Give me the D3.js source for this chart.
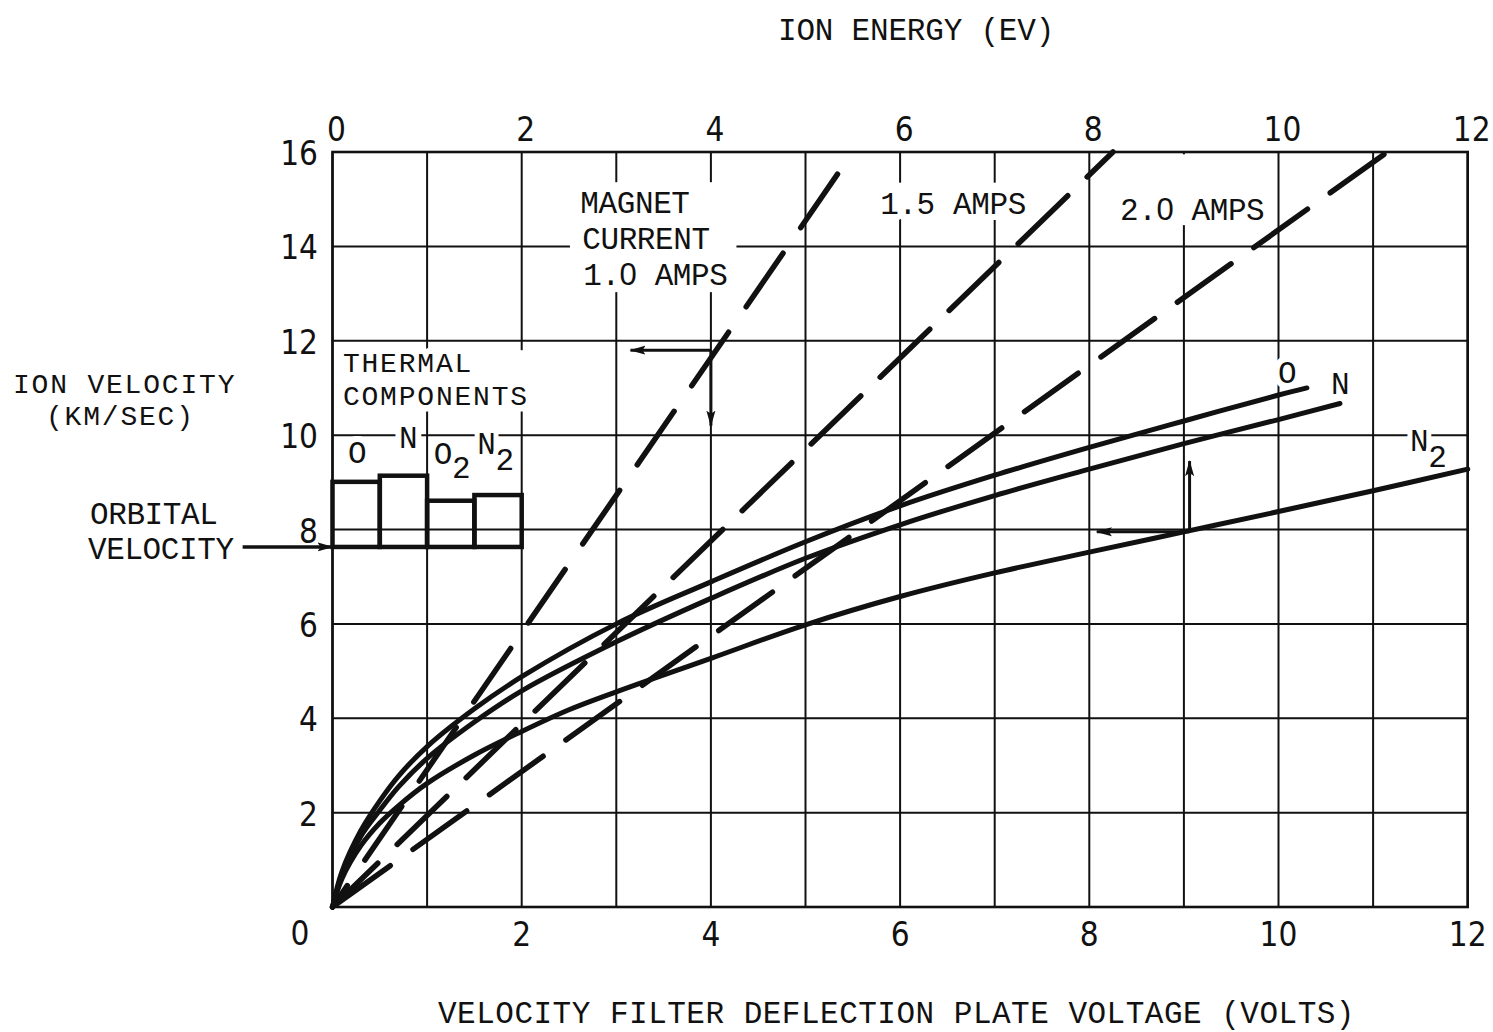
<!DOCTYPE html>
<html>
<head>
<meta charset="utf-8">
<script src="https://cdn.jsdelivr.net/npm/d3@7"></script>
<style>
  html, body { margin: 0; padding: 0; background: #fff; }
  svg text { font-family: "Liberation Mono", "DejaVu Sans Mono", monospace; fill: #111; }
  svg text.tick { font-family: "Liberation Sans Narrow", "DejaVu Sans Condensed", sans-serif; }
</style>
</head>
<body>
<svg id="chart" width="1493" height="1032"></svg>
<script>
// ---- axis ticks ----
const plateTicks  = [2, 4, 6, 8, 10, 12];          // deflection plate voltage (bottom)
const energyTicks = [0, 2, 4, 6, 8, 10, 12];       // ion energy, eV (top)
const velTicks    = [2, 4, 6, 8, 10, 12, 14, 16];  // ion velocity, km/s (left)

// ---- ion velocity curves ----
const oX  = [0, 0.1, 0.3, 0.5, 0.7, 1.0, 1.5, 2.0, 3.0, 4.0, 5.0, 6.0, 7.0, 8.0, 9.0, 10.0, 10.3];
const oV  = [0, 0.75, 1.62, 2.25, 2.78, 3.40, 4.2, 4.88, 6.0, 6.89, 7.74, 8.5, 9.15, 9.74, 10.3, 10.85, 11.0];
const nX  = [0, 0.1, 0.3, 0.5, 0.7, 1.0, 1.5, 2.0, 3.0, 4.0, 5.0, 6.0, 7.0, 8.0, 9.0, 10.0, 10.65];
const nV  = [0, 0.65, 1.5, 2.05, 2.55, 3.15, 3.92, 4.58, 5.62, 6.54, 7.39, 8.1, 8.72, 9.28, 9.82, 10.33, 10.67];
const n2X = [0, 0.1, 0.3, 0.5, 0.7, 1.0, 1.5, 2.0, 2.5, 3.0, 4.0, 5.0, 6.0, 7.0, 8.0, 9.0, 10.0, 11.0, 12.0];
const n2V = [0, 0.6, 1.3, 1.78, 2.15, 2.62, 3.22, 3.72, 4.18, 4.56, 5.27, 5.98, 6.58, 7.08, 7.52, 7.95, 8.38, 8.82, 9.28];

// ---- magnet current lines (straight from the origin) ----
const magnetAmps = ["1.0", "1.5", "2.0"];
const magnetEndX = [5.5, 8.25, 11.15];
const magnetEndV = [16, 16, 16];

// ---- thermal components above orbital velocity ----
const thermalSpecies = ["O", "N", "O2", "N2"];
const thermalTop     = [9.01, 9.14, 8.61, 8.73];
const thermalWidth   = 0.5;
const orbitalVelocity = 7.63;

// ---- read-out arrows: [tip1, corner, tip2] ----
const readoutMagnet = [[3.15, 11.8], [4.0, 11.8], [4.0, 10.2]];
const readoutN2     = [[8.08, 7.95], [9.06, 7.95], [9.06, 9.45]];
const orbitalArrowX = [-0.95, 0];

// ================= drawing =================
const svg = d3.select("#chart");
const x = d3.scaleLinear().domain([0, 12]).range([332.5, 1467.7]);
const y = d3.scaleLinear().domain([0, 16]).range([907, 152]);

svg.append("rect").attr("width", 1493).attr("height", 1032).attr("fill", "#fff");

// arrowhead marker
svg.append("defs").append("marker")
  .attr("id", "head").attr("viewBox", "0 -6 16 12")
  .attr("refX", 15).attr("refY", 0)
  .attr("markerWidth", 16).attr("markerHeight", 12)
  .attr("markerUnits", "userSpaceOnUse").attr("orient", "auto")
  .append("path").attr("d", "M0,-4.5L16,0L0,4.5L3,0Z").attr("fill", "#111");

// grid: every volt, every 2 km/s
const grid = svg.append("g").attr("stroke", "#111").attr("stroke-width", 2);
grid.selectAll("line.v").data(d3.range(0, 13)).join("line")
  .attr("x1", d => x(d)).attr("x2", d => x(d))
  .attr("y1", y(0)).attr("y2", y(16));
grid.selectAll("line.h").data(d3.range(0, 17, 2)).join("line")
  .attr("x1", x(0)).attr("x2", x(12))
  .attr("y1", d => y(d)).attr("y2", d => y(d));

// white panels behind the in-plot annotation blocks
const panels = [
  [x(2.51), y(15.36), x(4.27), y(13.03)],
  [x(5.68), y(15.35), x(7.3), y(14.58)],
  [x(8.25), y(15.95), x(9.95), y(14.45)],
  [x(0.08), y(11.8), x(2.15), y(10.5)]
];
svg.selectAll("rect.panel").data(panels).join("rect")
  .attr("x", d => d[0]).attr("y", d => d[1])
  .attr("width", d => d[2] - d[0]).attr("height", d => d[3] - d[1])
  .attr("fill", "#fff");

// plot frame
svg.append("rect")
  .attr("x", x(0)).attr("y", y(16))
  .attr("width", x(12) - x(0)).attr("height", y(0) - y(16))
  .attr("fill", "none").attr("stroke", "#111").attr("stroke-width", 2.6);

// lettering: mono stencil-style text; digit zeros set plain
const FS = 31;
function fillRun(sel, str) {
  str.split(/(0)/).filter(s => s.length).forEach(s => {
    const ts = sel.append("tspan").text(s);
    if (s === "0") ts.style("font-family", "'Liberation Sans', 'DejaVu Sans', sans-serif");
  });
}
// lines: [[text, x, y], ...] in one text element
function block(lines, opts) {
  opts = opts || {};
  const t = svg.append("text")
    .attr("font-size", opts.size || FS)
    .attr("letter-spacing", (opts.spacing != null ? opts.spacing : -0.4) + "px")
    .attr("text-anchor", opts.anchor || "start");
  if (opts.halo) {
    t.attr("stroke", "#fff").attr("stroke-width", 12)
     .attr("stroke-linejoin", "round").attr("paint-order", "stroke");
  }
  lines.forEach(([s, px, py]) => {
    const line = t.append("tspan").attr("x", px).attr("y", py);
    fillRun(line, s);
  });
  return t;
}
function subLabel(main, sub, px, py, drop) {
  const t = svg.append("text").attr("x", px).attr("y", py)
    .attr("font-size", FS).attr("letter-spacing", "-0.4px")
    .attr("stroke", "#fff").attr("stroke-width", 10)
    .attr("stroke-linejoin", "round").attr("paint-order", "stroke");
  t.append("tspan").text(main);
  t.append("tspan").attr("dy", drop).text(sub);
  return t;
}
function tick(txt, px, py, anchor) {
  svg.append("text").attr("class", "tick")
    .attr("x", px).attr("y", py).attr("text-anchor", anchor)
    .attr("font-size", 33).text(txt);
}

// tick labels
energyTicks.forEach(v => tick(String(v), x(v) + 4, 141, "middle"));
plateTicks.forEach(v => tick(String(v), x(v), 946, "middle"));
velTicks.forEach(v => tick(String(v), 318, y(v) + 13, "end"));
tick("0", 300, 945, "middle");

// axis titles
block([["ION ENERGY (EV)", 778, 40]], { spacing: -0.2 });
block([["VELOCITY FILTER DEFLECTION PLATE VOLTAGE (VOLTS)", 438, 1023]], { spacing: 0.5 });
block([["ION VELOCITY", 13, 393]], { size: 28, spacing: 1.8 });
block([["(KM/SEC)", 46, 425]], { size: 28, spacing: 1.8 });
block([["ORBITAL", 90, 524]]);
block([["VELOCITY", 88, 559]]);

// annotation text
block([["MAGNET", x(2.62), y(14.71)]], { halo: true });
block([["CURRENT", x(2.64), y(13.94)]], { halo: true });
block([["1.0 AMPS", x(2.65), y(13.18)]], { halo: true });
block([["1.5 AMPS", x(5.79), y(14.69)]], { halo: true });
block([["2.0 AMPS", x(8.325), y(14.56)]], { halo: true });
block([["THERMAL", x(0.11), y(11.34)]], { halo: true, size: 28, spacing: 1.8 });
block([["COMPONENTS", x(0.11), y(10.64)]], { halo: true, size: 28, spacing: 1.8 });

// thermal species labels
block([["O", x(0.26), y(9.41)]], { halo: true, anchor: "middle" });
block([["N", x(0.80), y(9.73)]], { halo: true, anchor: "middle" });
subLabel("O", "2", x(1.07), y(9.39), 14);
subLabel("N", "2", x(1.53), y(9.6), 16);

// curve labels
block([["O", x(10.09), y(11.1)]], { halo: true, anchor: "middle" });
block([["N", x(10.65), y(10.87)]], { halo: true, anchor: "middle" });
subLabel("N", "2", x(11.39), y(9.66), 16);

// thermal component bars standing on orbital velocity
svg.selectAll("rect.thermal").data(thermalSpecies).join("rect")
  .attr("x", (d, i) => x(i * thermalWidth))
  .attr("width", x(thermalWidth) - x(0))
  .attr("y", (d, i) => y(thermalTop[i]))
  .attr("height", (d, i) => y(orbitalVelocity) - y(thermalTop[i]))
  .attr("fill", "none").attr("stroke", "#111").attr("stroke-width", 4.5);

// magnet current lines
const dashSpec = [["65,31", 39], ["69,27", 6], ["66,28", 89]];
svg.selectAll("line.magnet").data(magnetAmps).join("line")
  .attr("x1", x(0)).attr("y1", y(0))
  .attr("x2", (d, i) => x(magnetEndX[i]))
  .attr("y2", (d, i) => y(magnetEndV[i]))
  .attr("stroke", "#111").attr("stroke-width", 5.5)
  .attr("stroke-linecap", "round")
  .attr("stroke-dasharray", (d, i) => dashSpec[i][0])
  .attr("stroke-dashoffset", (d, i) => dashSpec[i][1]);

// ion velocity curves
const curve = d3.line().x(d => x(d[0])).y(d => y(d[1])).curve(d3.curveCatmullRom.alpha(0.5));
const series = [d3.zip(oX, oV), d3.zip(nX, nV), d3.zip(n2X, n2V)];
svg.selectAll("path.ion").data(series).join("path")
  .attr("d", curve).attr("fill", "none")
  .attr("stroke", "#111").attr("stroke-width", 5)
  .attr("stroke-linecap", "round").attr("stroke-linejoin", "round");

// read-out arrows
function readout(pts) {
  [0, 2].forEach(k => {
    svg.append("line")
      .attr("x1", x(pts[1][0])).attr("y1", y(pts[1][1]))
      .attr("x2", x(pts[k][0])).attr("y2", y(pts[k][1]))
      .attr("stroke", "#111").attr("stroke-width", 3)
      .attr("marker-end", "url(#head)");
  });
}
readout(readoutMagnet);
readout(readoutN2);

// orbital velocity pointer
svg.append("line")
  .attr("x1", x(orbitalArrowX[0])).attr("y1", y(orbitalVelocity))
  .attr("x2", x(orbitalArrowX[1])).attr("y2", y(orbitalVelocity))
  .attr("stroke", "#111").attr("stroke-width", 3.5)
  .attr("marker-end", "url(#head)");
</script>
</body>
</html>
